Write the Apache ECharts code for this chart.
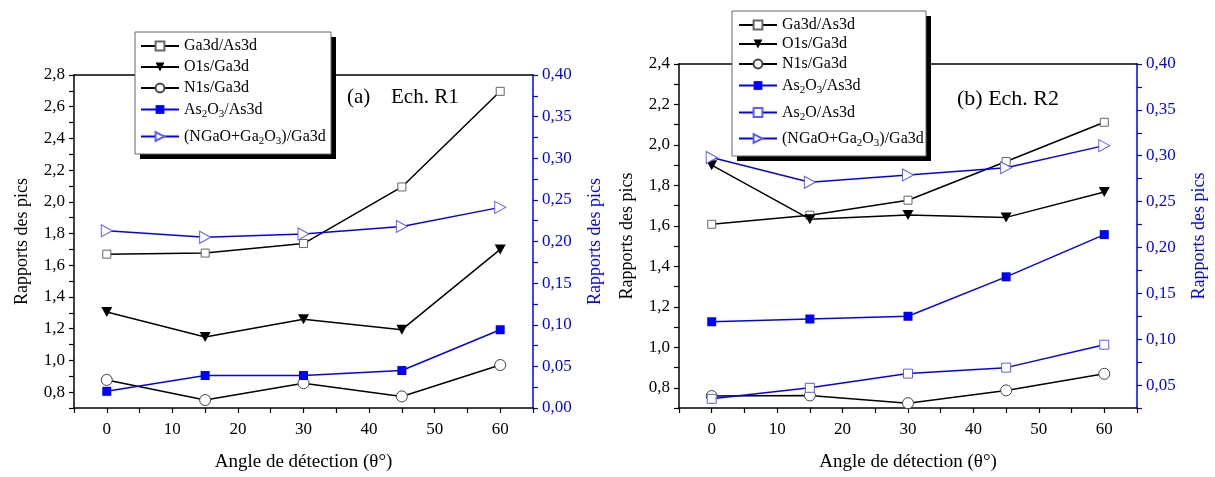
<!DOCTYPE html>
<html>
<head>
<meta charset="utf-8">
<script src="https://cdn.jsdelivr.net/npm/echarts@6/dist/echarts.min.js"></script>
<style>
html,body{margin:0;padding:0;background:#fff;}
#chart{width:1215px;height:477px;}
</style>
</head>
<body>
<div id="chart"></div>
<script>
// ---------- DATA ----------
const angles = [0, 15, 30, 45, 60];
const xTickLabels = [0, 10, 20, 30, 40, 50, 60];

// Panel (a) Ech. R1 - left axis
const a_Ga3dAs3d = [1.67, 1.677, 1.737, 2.094, 2.697];
const a_O1sGa3d  = [1.305, 1.148, 1.26, 1.194, 1.70];
const a_N1sGa3d  = [0.877, 0.75, 0.856, 0.773, 0.971];
// Panel (a) - right axis
const a_As2O3As3d = [0.020, 0.039, 0.039, 0.045, 0.094];
const a_NGaOGa3d  = [0.213, 0.205, 0.209, 0.218, 0.241];

// Panel (b) Ech. R2 - left axis
const b_Ga3dAs3d = [1.608, 1.653, 1.727, 1.918, 2.112];
const b_O1sGa3d  = [1.90, 1.633, 1.654, 1.642, 1.767];
const b_N1sGa3d  = [0.759, 0.762, 0.724, 0.787, 0.869];
// Panel (b) - right axis
const b_As2O3As3d = [0.119, 0.122, 0.125, 0.168, 0.214];
const b_As2OAs3d  = [0.035, 0.047, 0.0625, 0.069, 0.094];
const b_NGaOGa3d  = [0.298, 0.271, 0.279, 0.287, 0.311];

const legendA = ['Ga3d/As3d', 'O1s/Ga3d', 'N1s/Ga3d', 'As2O3/As3d', '(NGaO+Ga2O3)/Ga3d'];
const legendB = ['Ga3d/As3d', 'O1s/Ga3d', 'N1s/Ga3d', 'As2O3/As3d', 'As2O/As3d', '(NGaO+Ga2O3)/Ga3d'];
const legendRich = {
  'Ga3d/As3d': 'Ga3d/As3d',
  'O1s/Ga3d': 'O1s/Ga3d',
  'N1s/Ga3d': 'N1s/Ga3d',
  'As2O3/As3d': 'As{s|2}O{s|3}/As3d',
  'As2O/As3d': 'As{s|2}O/As3d',
  '(NGaO+Ga2O3)/Ga3d': '(NGaO+Ga{s|2}O{s|3})/Ga3d'
};
const panelLabels = ['(a)', 'Ech. R1', '(b) Ech. R2'];
const axisTitle = 'Rapports des pics';
const xTitle = 'Angle de détection (θ°)';

// ---------- LAYOUT / STYLE ----------
const legendRowsA = [46, 67, 88, 109, 136];
const legendRowsB = [25, 44, 64, 85, 112, 138];
const FONT = '"Liberation Serif", "Times New Roman", serif';
const BLUE = '#0000ff';
const LBLUE = '#5c5cff';
const TRI_DOWN = 'path://M0,0 L10,0 L5,9 Z';
const TRI_RIGHT = 'path://M0,0 L9,5 L0,10 Z';

const pair = (ys) => angles.map((x, i) => [x, ys[i]]);

function fmt1(v) { const k = Math.round(v * 10); return k % 2 === 0 ? (k / 10).toFixed(1).replace('.', ',') : ''; }
function fmt2(v) { const k = Math.round(v * 1000); return k % 50 === 0 ? (k / 1000).toFixed(2).replace('.', ',') : ''; }
function fmtX(v) { const k = Math.round(v); return xTickLabels.indexOf(k) >= 0 ? String(k) : ''; }

const styles = {
  'Ga3d/As3d': { symbol: 'rect', symbolSize: 8, line: '#000', item: { color: '#fff', borderColor: '#666', borderWidth: 1 } },
  'O1s/Ga3d': { symbol: TRI_DOWN, symbolSize: [11, 10], line: '#000', item: { color: '#000', borderColor: '#000', borderWidth: 0 } },
  'N1s/Ga3d': { symbol: 'circle', symbolSize: 11, line: '#000', item: { color: '#fff', borderColor: '#444', borderWidth: 1 } },
  'As2O3/As3d': { symbol: 'rect', symbolSize: 9, line: BLUE, item: { color: BLUE, borderColor: BLUE, borderWidth: 0 } },
  'As2O/As3d': { symbol: 'rect', symbolSize: 9, line: BLUE, item: { color: '#fff', borderColor: LBLUE, borderWidth: 1 } },
  '(NGaO+Ga2O3)/Ga3d': { symbol: TRI_RIGHT, symbolSize: [11, 12], line: BLUE, item: { color: '#fff', borderColor: LBLUE, borderWidth: 1 } }
};

function mk(name, ys, xi, yi) {
  const s = styles[name];
  return {
    type: 'line', name: name, data: pair(ys), xAxisIndex: xi, yAxisIndex: yi,
    symbol: s.symbol, symbolSize: s.symbolSize, showAllSymbol: true,
    lineStyle: { color: s.line, width: 1.5 },
    itemStyle: Object.assign({}, s.item),
    emphasis: { disabled: true }, animation: false
  };
}

function xAxisBottom(gi) {
  return {
    type: 'value', gridIndex: gi, position: 'bottom', min: -5, max: 65, interval: 5,
    axisLine: { show: true, onZero: false, lineStyle: { color: '#000', width: 1.5 } },
    axisTick: { show: true, inside: false, length: 5, lineStyle: { color: '#000', width: 1.2 } },
    axisLabel: { formatter: fmtX, color: '#000', fontFamily: FONT, fontSize: 17, margin: 13, showMinLabel: true, showMaxLabel: true },
    splitLine: { show: false },
    name: xTitle, nameLocation: 'middle', nameGap: 45,
    nameTextStyle: { color: '#000', fontFamily: FONT, fontSize: 19 }
  };
}
function xAxisTop(gi) {
  return {
    type: 'value', gridIndex: gi, position: 'top', min: -5, max: 65,
    axisLine: { show: true, onZero: false, lineStyle: { color: '#000', width: 1.5 } },
    axisTick: { show: false }, axisLabel: { show: false }, splitLine: { show: false }
  };
}
function yLeft(gi, min, max) {
  return {
    type: 'value', gridIndex: gi, position: 'left', min: min, max: max, interval: 0.1,
    axisLine: { show: true, onZero: false, lineStyle: { color: '#000', width: 1.5 } },
    axisTick: { show: true, inside: false, length: 5, lineStyle: { color: '#000', width: 1.2 } },
    axisLabel: { formatter: fmt1, color: '#000', fontFamily: FONT, fontSize: 17, margin: 9 },
    splitLine: { show: false },
    name: axisTitle, nameLocation: 'middle', nameGap: 43, nameRotate: 90,
    nameTextStyle: { color: '#000', fontFamily: FONT, fontSize: 18 }
  };
}
function yRight(gi, min, max) {
  return {
    type: 'value', gridIndex: gi, position: 'right', min: min, max: max, interval: 0.025,
    axisLine: { show: true, onZero: false, lineStyle: { color: BLUE, width: 1.5 } },
    axisTick: { show: true, inside: false, length: 5, lineStyle: { color: BLUE, width: 1.2 } },
    axisLabel: { formatter: fmt2, color: BLUE, fontFamily: FONT, fontSize: 17, margin: 9 },
    splitLine: { show: false },
    name: axisTitle, nameLocation: 'middle', nameGap: 53, nameRotate: 90,
    nameTextStyle: { color: BLUE, fontFamily: FONT, fontSize: 18 }
  };
}

// one legend component per row so that each row sits exactly where the reference has it
function legendRow(left, centerY, name) {
  return {
    show: true, orient: 'vertical', left: left, top: centerY - 10, z: 20,
    data: [name], selectedMode: false, itemWidth: 38, itemHeight: 11, itemGap: 0,
    padding: 0, backgroundColor: 'transparent',
    formatter: (n) => legendRich[n],
    textStyle: {
      color: '#000', fontFamily: FONT, fontSize: 16, lineHeight: 20,
      rich: { s: { fontFamily: FONT, fontSize: 11, lineHeight: 10, padding: [10, 0, 0, 0] } }
    }
  };
}

const legends = [];
legendA.forEach((n, i) => legends.push(legendRow(140, legendRowsA[i], n)));
legendB.forEach((n, i) => legends.push(legendRow(738, legendRowsB[i], n)));

const option = {
  backgroundColor: '#fff',
  animation: false,
  grid: [
    { left: 74, top: 75, width: 459, height: 337 },
    { left: 679, top: 64, width: 458, height: 346 }
  ],
  xAxis: [xAxisBottom(0), xAxisTop(0), xAxisBottom(1), xAxisTop(1)],
  yAxis: [yLeft(0, 0.7, 2.8), yRight(0, 0, 0.4), yLeft(1, 0.7, 2.4), yRight(1, 0.025, 0.4)],
  legend: legends,
  graphic: [
    { type: 'rect', z: 10, shape: { x: 140, y: 37, width: 196, height: 122 }, style: { fill: '#000' } },
    { type: 'rect', z: 11, shape: { x: 135, y: 32, width: 196, height: 122 }, style: { fill: '#fff', stroke: '#666', lineWidth: 1 } },
    { type: 'rect', z: 10, shape: { x: 737, y: 16, width: 194, height: 145 }, style: { fill: '#000' } },
    { type: 'rect', z: 11, shape: { x: 732, y: 11, width: 194, height: 145 }, style: { fill: '#fff', stroke: '#666', lineWidth: 1 } },
    { type: 'text', z: 12, left: 347, top: 87, style: { text: panelLabels[0], font: '21px "Liberation Serif"', fill: '#000' } },
    { type: 'text', z: 12, left: 391, top: 87, style: { text: panelLabels[1], font: '21px "Liberation Serif"', fill: '#000' } },
    { type: 'text', z: 12, left: 957, top: 88, style: { text: panelLabels[2], font: '22px "Liberation Serif"', fill: '#000' } }
  ],
  series: [
    mk('Ga3d/As3d', a_Ga3dAs3d, 0, 0),
    mk('O1s/Ga3d', a_O1sGa3d, 0, 0),
    mk('N1s/Ga3d', a_N1sGa3d, 0, 0),
    mk('As2O3/As3d', a_As2O3As3d, 0, 1),
    mk('(NGaO+Ga2O3)/Ga3d', a_NGaOGa3d, 0, 1),
    mk('Ga3d/As3d', b_Ga3dAs3d, 2, 2),
    mk('O1s/Ga3d', b_O1sGa3d, 2, 2),
    mk('N1s/Ga3d', b_N1sGa3d, 2, 2),
    mk('As2O3/As3d', b_As2O3As3d, 2, 3),
    mk('As2O/As3d', b_As2OAs3d, 2, 3),
    mk('(NGaO+Ga2O3)/Ga3d', b_NGaOGa3d, 2, 3)
  ]
};

const chart = echarts.init(document.getElementById('chart'), null, { renderer: 'canvas' });
chart.setOption(option);
</script>
</body>
</html>
